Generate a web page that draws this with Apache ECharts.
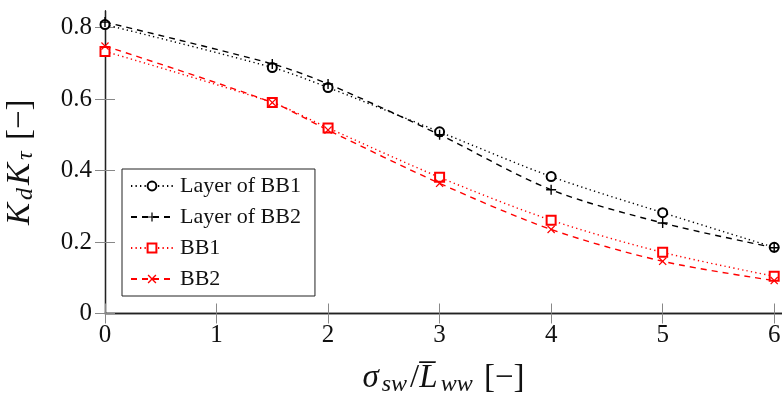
<!DOCTYPE html>
<html>
<head>
<meta charset="utf-8">
<script src="https://cdn.jsdelivr.net/npm/echarts@6/dist/echarts.min.js"></script>
<style>
  html, body { margin: 0; padding: 0; background: #fff; }
  #chart { width: 782px; height: 398px; }
</style>
</head>
<body>
<div id="chart"></div>
<script>
const xValues = [0, 1.5, 2, 3, 4, 5, 6]
const layerBB1 = [0.808, 0.688, 0.632, 0.508, 0.383, 0.282, 0.185]
const layerBB2 = [0.815, 0.698, 0.642, 0.500, 0.346, 0.253, 0.184]
const bb1 = [0.733, 0.590, 0.519, 0.381, 0.261, 0.171, 0.104]
const bb2 = [0.748, 0.590, 0.513, 0.364, 0.235, 0.146, 0.092]
const xTicks = [0, 1, 2, 3, 4, 5, 6]
const yTicks = [0, 0.2, 0.4, 0.6, 0.8]

const serif = "Liberation Serif"
const pair = (ys) => xValues.map((x, i) => [x, ys[i]])

const plusPath = "path://M-0.14,-1H0.14V-0.14H1V0.14H0.14V1H-0.14V0.14H-1V-0.14H-0.14Z"
const crossPath = "path://M-0.9,-0.7L-0.7,-0.9L0,-0.2L0.7,-0.9L0.9,-0.7L0.2,0L0.9,0.7L0.7,0.9L0,0.2L-0.7,0.9L-0.9,0.7L-0.2,0Z"

const chart = echarts.init(document.getElementById("chart"))

const axisCommon = {
  type: "value",
  axisLine: { show: true, lineStyle: { color: "#222", width: 1.3 } },
  axisTick: { show: true, inside: true, length: 10, lineStyle: { color: "#888", width: 1 } },
  splitLine: { show: false },
}

// math-ish axis title styles
const mathRich = {
  i: { fontFamily: serif, fontStyle: "italic", fontSize: 33, color: "#111" },
  s: { fontFamily: serif, fontStyle: "italic", fontSize: 24, color: "#111", padding: [12, 3, 0, 3] },
  n: { fontFamily: serif, fontSize: 33, color: "#111" },
}

const mkSeries = (name, data, color, dash, symbol, size) => ({
  name,
  type: "line",
  data: pair(data),
  smooth: 0.3,
  symbol,
  symbolSize: size,
  showSymbol: true,
  lineStyle: { color, width: 1.4, type: dash },
  itemStyle: symbol.startsWith("path") ? { color } : { color, borderColor: color, borderWidth: 1.4 },
  emphasis: { disabled: true },
  animation: false,
})

const option = {
  animation: false,
  grid: { left: 105, right: 0, top: 11, bottom: 84.5, outerBoundsMode: "none", containLabel: false },
  legend: {
    orient: "vertical",
    left: 122,
    top: 169,
    padding: [6, 14, 6, 8],
    itemGap: 9,
    itemWidth: 42,
    itemHeight: 11,
    backgroundColor: "#fff",
    borderColor: "#222",
    borderWidth: 1,
    textStyle: { fontFamily: serif, fontSize: 22, color: "#111", padding: [0, 0, 0, 2] },
    data: ["Layer of BB1", "Layer of BB2", "BB1", "BB2"],
  },
  xAxis: [
    {
      ...axisCommon,
      min: 0,
      max: 6.07,
      name: "{i|σ}{s|sw}{n|/}{i|L\u0305}{s|ww}{n| [−]}",
      nameLocation: "middle",
      nameGap: 47,
      nameTextStyle: { rich: mathRich },
      axisTick: { ...axisCommon.axisTick, customValues: xTicks },
      axisLabel: { customValues: xTicks, fontFamily: serif, fontSize: 25, color: "#111", margin: 9 },
    },
    {
      ...axisCommon,
      position: "top",
      min: 0,
      max: 6.07,
      axisTick: { ...axisCommon.axisTick, customValues: xTicks },
      axisLabel: { show: false },
    },
  ],
  yAxis: [
    {
      ...axisCommon,
      min: 0,
      max: 0.846,
      name: "{i|K}{s|d}{i|K}{s|τ}{n| [−]}",
      nameLocation: "middle",
      nameGap: 67,
      nameTextStyle: { rich: mathRich },
      axisTick: { ...axisCommon.axisTick, customValues: yTicks },
      axisLabel: {
        customValues: yTicks,
        fontFamily: serif,
        fontSize: 25,
        color: "#111",
        margin: 13,
        formatter: (v) => (v === 0 ? "0" : v.toFixed(1)),
      },
    },
    {
      ...axisCommon,
      position: "right",
      min: 0,
      max: 0.846,
      axisTick: { ...axisCommon.axisTick, customValues: yTicks },
      axisLabel: { show: false },
    },
  ],
  series: [
    mkSeries("Layer of BB1", layerBB1, "#000", [1.3, 3.2], "emptyCircle", 9),
    mkSeries("Layer of BB2", layerBB2, "#000", [6, 5], plusPath, 10),
    mkSeries("BB1", bb1, "#ff0000", [1.3, 3.2], "emptyRect", 9),
    mkSeries("BB2", bb2, "#ff0000", [6, 5], crossPath, 8),
  ],
}

chart.setOption(option)
</script>
</body>
</html>
